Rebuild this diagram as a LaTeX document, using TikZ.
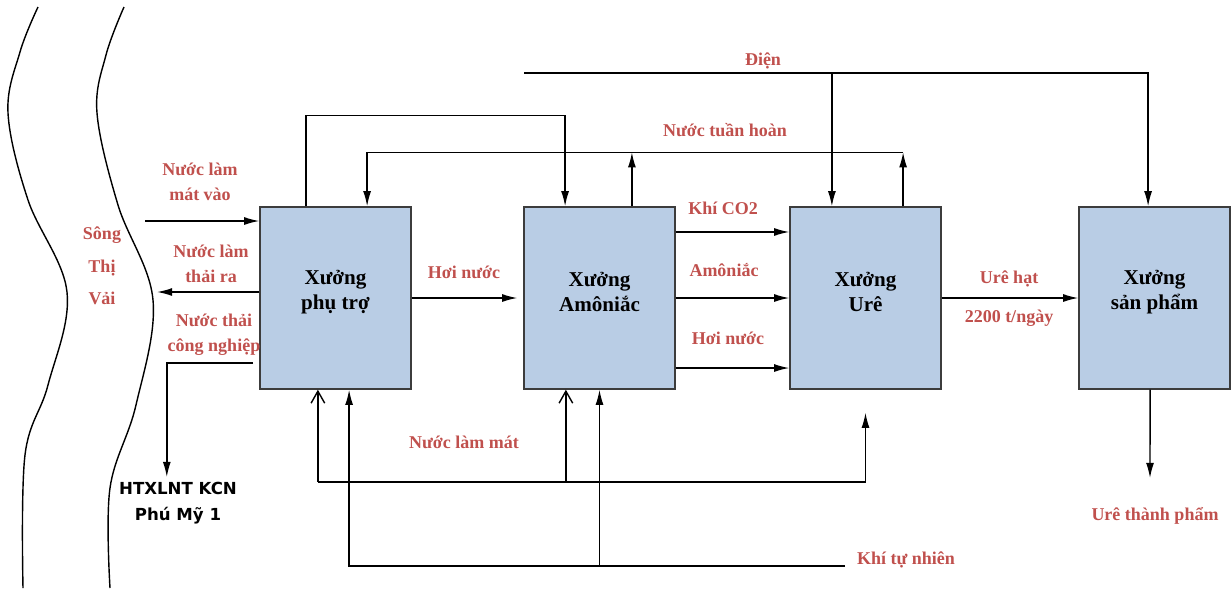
\documentclass[tikz,border=0pt]{standalone}
\usepackage{fontspec}
\setmainfont{Liberation Serif}
\newfontfamily\htxfont{DejaVu Sans}
\usetikzlibrary{arrows.meta,positioning}
\definecolor{RedLbl}{RGB}{192,80,77}
\definecolor{BoxFill}{RGB}{185,205,229}
\definecolor{BoxLine}{RGB}{60,60,60}

\begin{document}
\begin{tikzpicture}[x=0.025cm, y=-0.025cm, line width=1pt,
  >={Latex[length=3.8mm,width=2mm]},
  xuong/.style={draw=BoxLine, fill=BoxFill, minimum width=3.775cm, minimum height=4.55cm},
  boxtxt/.style={align=center, yshift=0.15cm, font=\fontsize{15}{18}\selectfont\bfseries},
  lbl/.style={text=RedLbl, align=center, font=\fontsize{12.8}{18}\selectfont\bfseries},
  oarr/.style={-{Straight Barb[length=3mm,width=3.4mm]}}]
  \useasboundingbox (0,0) rectangle (1232,588);
  % river banks
  \draw plot[smooth, tension=0.6] coordinates {(38,7) (20,52) (8,113) (28,200) (67,292) (48,385) (25,455) (23,588)};
  \draw plot[smooth, tension=0.6] coordinates {(124,7) (106,55) (97,113) (118,205) (153,300) (136,405) (110,488) (110,588)};
  \node[lbl, font=\fontsize{12.8}{23}\selectfont\bfseries] (song) at (102,266) {Sông\\Thị\\Vải};

  \node[xuong, label={[boxtxt]center:Xưởng\\phụ trợ}] (phutro) at (335.5,298) {};
  \node[xuong, label={[boxtxt]center:Xưởng\\Amôniắc}] (amoniac) at (599.5,298) {};
  \node[xuong, label={[boxtxt]center:Xưởng\\Urê}] (ure) at (865.5,298) {};
  \node[xuong, label={[boxtxt]center:Xưởng\\sản phẩm}] (sanpham) at (1154.5,298) {};

  \node[lbl] (dien) at (763,61) {Điện};
  \node[lbl] (nth) at (725,130) {Nước tuần hoàn};
  \node[lbl] (nlmv) at (200,182) {Nước làm\\mát vào};
  \node[lbl] (nlt) at (211,264) {Nước làm\\thải ra};
  \node[lbl] (ntcn) at (214,335) {Nước thải\\công nghiệp};
  \node[align=center, font=\fontsize{11.8}{18}\selectfont\htxfont\bfseries] (htx) at (178,503) {HTXLNT KCN\\Phú Mỹ 1};
  \node[lbl] (hn1) at (464,272) {Hơi nước};
  \node[lbl] (co2) at (723,208) {Khí CO2};
  \node[lbl] (amo) at (724,270) {Amôniắc};
  \node[lbl] (hn2) at (728,338) {Hơi nước};
  \node[lbl] (ureh) at (1009,279) {Urê hạt};
  \node[lbl] (tan) at (1009,318) {2200 t/ngày};
  \node[lbl] (utp) at (1155,516) {Urê thành phẩm};
  \node[lbl] (nlm) at (464,442) {Nước làm mát};
  \node[lbl] (ktn) at (906,560) {Khí tự nhiên};

  \coordinate (dienS) at (524,73);
  \coordinate (inL) at (145,221);
  \coordinate (outL) at (157,292);
  \coordinate (wst) at (253,363);
  \coordinate (dOut) at (1150,478);
  \coordinate (nlmY) at (318,482);
  \coordinate (ktnE) at (845,566);

  \coordinate (a1) at ([xshift=-0.74cm]phutro.north);
  \coordinate (a2) at ([xshift=0.79cm]phutro.north);
  \coordinate (a3) at ([xshift=-0.44cm]phutro.south);
  \coordinate (a4) at ([xshift=0.34cm]phutro.south);
  \coordinate (b1) at ([xshift=-0.86cm]amoniac.north);
  \coordinate (b2) at ([xshift=0.81cm]amoniac.north);
  \coordinate (b3) at ([xshift=-0.84cm]amoniac.south);
  \coordinate (c1) at ([xshift=-0.84cm]ure.north);
  \coordinate (c2) at ([xshift=0.94cm]ure.north);
  \coordinate (c3) at ([yshift=-0.575cm]ure.south);
  \coordinate (d1) at ([xshift=-0.16cm]sanpham.north);

  \draw[->] (dienS) -| (d1);
  \draw[->] (c1 |- dienS) -- (c1);
  \draw[->] (a1) -- ++(0,-91) -| (b1);
  \draw[->] (c2) -- ++(0,-54) coordinate (nthR);
  \draw[->] (b2) -- (b2 |- nthR);
  \draw[->] (nthR) -| (a2);

  \draw[->] (inL) -- (inL -| phutro.west);
  \draw[->] (outL -| phutro.west) -- (outL);
  \draw[->] (wst) -| ([xshift=-0.28cm]htx.north);

  \draw[->] (phutro.east) -- ([xshift=-0.15cm]amoniac.west);
  \draw[->] ([yshift=1.65cm]amoniac.east) -- ([yshift=1.65cm]ure.west);
  \draw[->] (amoniac.east) -- (ure.west);
  \draw[->] ([yshift=-1.75cm]amoniac.east) -- ([yshift=-1.75cm]ure.west);
  \draw[->] (ure.east) -- (sanpham.west);
  \draw[->] ([xshift=-0.11cm]sanpham.south) -- (dOut);

  \draw (a3 |- nlmY) -- (c3 |- nlmY);
  \draw[oarr] (a3 |- nlmY) -- (a3);
  \draw[oarr] (b3 |- nlmY) -- (b3);
  \draw[->] (c3 |- nlmY) -- (c3);

  \draw[->] (ktnE) -| (a4);
  \draw[->] (amoniac.south |- ktnE) -- (amoniac.south);
\end{tikzpicture}
\end{document}
